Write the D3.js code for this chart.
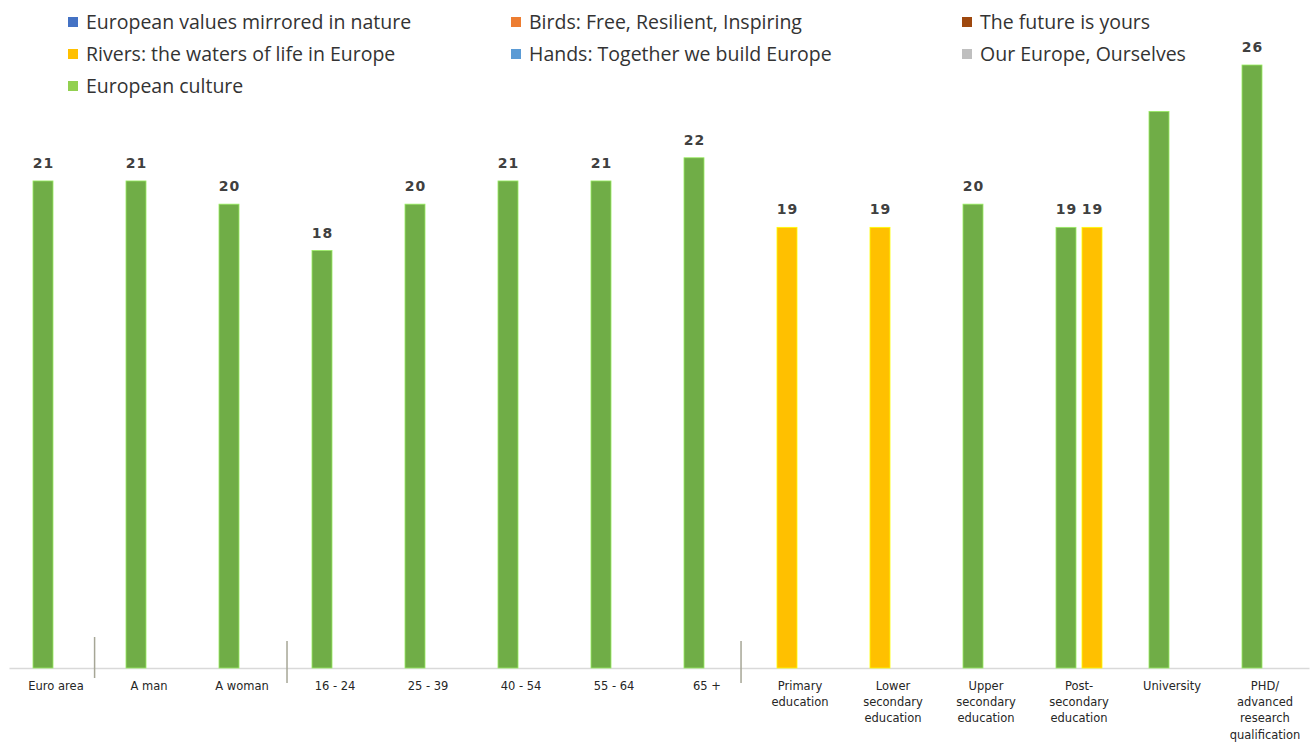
<!DOCTYPE html>
<html>
<head>
<meta charset="utf-8">
<script src="https://cdn.jsdelivr.net/npm/d3@7"></script>
<style>
  html, body { margin: 0; padding: 0; background: #ffffff; }
  svg { display: block; }
</style>
</head>
<body>
<svg id="chart" width="1315" height="742"></svg>
<script>
// ---------------- data ----------------
const seriesNames = [
  "European values mirrored in nature",
  "Birds: Free, Resilient, Inspiring",
  "The future is yours",
  "Rivers: the waters of life in Europe",
  "Hands: Together we build Europe",
  "Our Europe, Ourselves",
  "European culture"
];
const seriesColors = ["#4472C4", "#ED7D31", "#9E480E", "#FFC000", "#5B9BD5", "#BFBFBF", "#70AD47"];
const legendColors = ["#4472C4", "#ED7D31", "#9E480E", "#FFC000", "#5B9BD5", "#BFBFBF", "#92D050"];

const categories = [
  "Euro area", "A man", "A woman", "16 - 24", "25 - 39", "40 - 54", "55 - 64", "65 +",
  "Primary education", "Lower secondary education", "Upper secondary education",
  "Post-secondary education", "University", "PHD/ advanced research qualification"
];
const categoryLines = [
  ["Euro area"], ["A man"], ["A woman"], ["16 - 24"], ["25 - 39"], ["40 - 54"], ["55 - 64"], ["65 +"],
  ["Primary", "education"], ["Lower", "secondary", "education"], ["Upper", "secondary", "education"],
  ["Post-", "secondary", "education"], ["University"], ["PHD/", "advanced", "research", "qualification"]
];

// first (top) answer per category
const firstSeries = [
  "European culture", "European culture", "European culture", "European culture",
  "European culture", "European culture", "European culture", "European culture",
  "Rivers: the waters of life in Europe", "Rivers: the waters of life in Europe",
  "European culture", "European culture", "European culture", "European culture"
];
const firstValues = [21, 21, 20, 18, 20, 21, 21, 22, 19, 19, 20, 19, 24, 26];

// tied second answer (only where present)
const secondSeries = [null, null, null, null, null, null, null, null, null, null, null,
  "Rivers: the waters of life in Europe", null, null];
const secondValues = [null, null, null, null, null, null, null, null, null, null, null, 19, null, null];

// categories whose value label is not shown in the original
const unlabelled = ["University"];

// group separators: drawn after these categories (fraction of band from its left)
const separatorAfter = ["Euro area", "A woman", "65 +"];
const separatorFrac = [0.915, 0.984, 0.866];
const separatorTall = [false, true, true];

// ---------------- build ----------------
const bars = [];
categories.forEach((c, i) => {
  bars.push({ cat: c, slot: 0, series: firstSeries[i], value: firstValues[i] });
  if (secondSeries[i] != null) bars.push({ cat: c, slot: 1, series: secondSeries[i], value: secondValues[i] });
});

const svg = d3.select("#chart");
const x = d3.scaleBand().domain(categories).range([9.5, 1311.5]).padding(0);
const xi = d3.scaleBand().domain([0, 1]).range([-26, 26]).paddingInner(0.23).paddingOuter(0.115);
const y = d3.scaleLinear().domain([0, 26]).range([668, 65]);
const color = d3.scaleOrdinal().domain(seriesNames).range(seriesColors);

// baseline
svg.append("line")
  .attr("x1", x.range()[0]).attr("x2", x.range()[1] - 2)
  .attr("y1", y(0) + 0.5).attr("y2", y(0) + 0.5)
  .attr("stroke", "#D9D9D9").attr("stroke-width", 1.5);

// bars
svg.append("g").selectAll("rect").data(bars).join("rect")
  .attr("x", d => x(d.cat) + x.bandwidth() / 2 + xi(d.slot))
  .attr("y", d => y(d.value))
  .attr("width", xi.bandwidth())
  .attr("height", d => y(0) - y(d.value))
  .attr("fill", d => color(d.series))
  .attr("stroke", d => d3.color(color(d.series)).brighter(0.9))
  .attr("stroke-width", 0.8);

// value labels
svg.append("g").selectAll("text").data(bars.filter(d => !unlabelled.includes(d.cat))).join("text")
  .attr("x", d => x(d.cat) + x.bandwidth() / 2 + xi(d.slot) + xi.bandwidth() / 2 + 0.5)
  .attr("y", d => y(d.value) - 13)
  .attr("text-anchor", "middle")
  .attr("font-family", "DejaVu Sans")
  .attr("font-weight", "bold")
  .attr("font-size", 14)
  .attr("letter-spacing", 1)
  .attr("fill", "#404040")
  .text(d => d.value);

// category labels
const catG = svg.append("g");
categories.forEach((c, i) => {
  const t = catG.append("text")
    .attr("x", x(c) + x.bandwidth() / 2)
    .attr("y", 690)
    .attr("text-anchor", "middle")
    .attr("font-family", "DejaVu Sans")
    .attr("font-size", 11.5)
    .attr("fill", "#262626");
  categoryLines[i].forEach((ln, k) => {
    t.append("tspan").attr("x", x(c) + x.bandwidth() / 2).attr("dy", k === 0 ? 0 : 16.2).text(ln);
  });
});

// separators
separatorAfter.forEach((c, i) => {
  const sx = x(c) + x.bandwidth() * separatorFrac[i];
  svg.append("line")
    .attr("x1", sx).attr("x2", sx)
    .attr("y1", separatorTall[i] ? y(0) - 27 : y(0) - 31)
    .attr("y2", separatorTall[i] ? y(0) + 15 : y(0) + 10)
    .attr("stroke", "#A6A696").attr("stroke-width", 1.5);
});

// legend
const legCols = [68, 511, 962];
const legRows = [22, 54, 86];
const leg = svg.append("g");
seriesNames.forEach((s, i) => {
  const lx = legCols[i % 3], ly = legRows[Math.floor(i / 3)];
  leg.append("rect").attr("x", lx).attr("y", ly - 5).attr("width", 10).attr("height", 10)
    .attr("fill", legendColors[i]);
  leg.append("text").attr("x", lx + 18).attr("y", ly + 7)
    .attr("font-family", "Open Sans").attr("font-size", 19.5).attr("fill", "#333333")
    .text(s);
});
</script>
</body>
</html>
